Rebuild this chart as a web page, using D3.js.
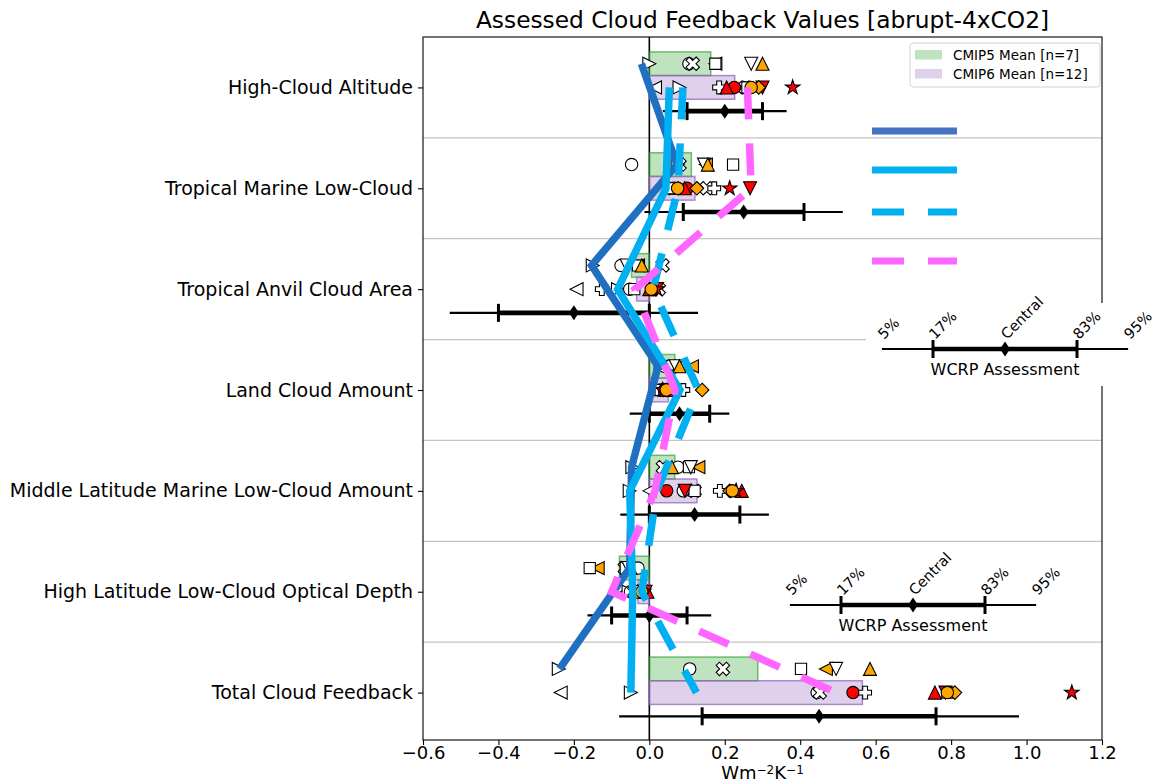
<!DOCTYPE html>
<html>
<head>
<meta charset="utf-8">
<title>Assessed Cloud Feedback Values</title>
<script src="https://cdn.jsdelivr.net/npm/d3@7"></script>
<style>
  html,body{margin:0;padding:0;background:#fff;}
  svg{display:block;}
  text{font-family:"DejaVu Sans",Verdana,sans-serif;fill:#000;}
</style>
</head>
<body>
<svg id="chart" width="1161" height="783"></svg>
<script>
// ---------------- data ----------------
const categories = [
  "High-Cloud Altitude",
  "Tropical Marine Low-Cloud",
  "Tropical Anvil Cloud Area",
  "Land Cloud Amount",
  "Middle Latitude Marine Low-Cloud Amount",
  "High Latitude Low-Cloud Optical Depth",
  "Total Cloud Feedback"
];
const xTicks = [-0.6, -0.4, -0.2, 0.0, 0.2, 0.4, 0.6, 0.8, 1.0, 1.2];

// WCRP assessment (5%, 17%, central, 83%, 95%) per category
const wcrp5       = [0.036, -0.013, -0.529, -0.052, -0.077, -0.164, -0.08];
const wcrp17      = [0.10,   0.09,  -0.40,   0.00,   0.00,  -0.10,   0.14];
const wcrpCentral = [0.20,   0.25,  -0.20,   0.08,   0.12,   0.00,   0.45];
const wcrp83      = [0.30,   0.41,   0.00,   0.16,   0.24,   0.10,   0.76];
const wcrp95      = [0.364,  0.513,  0.129,  0.212,  0.317,  0.164,  0.98];

// CMIP5 models: feedback per category (top to bottom)
const cmip5 = [
  [0.105, -0.047, -0.075, 0.040,  0.076, -0.030,  0.107],
  [0.115,  0.080,  0.035, 0.060,  0.036, -0.065,  0.195],
  [0.175,  0.150, -0.030, 0.113,  0.130, -0.137,  0.468],
  [0.175,  0.222, -0.030, 0.080,  0.105, -0.158,  0.402],
  [0.000,  0.075, -0.150, 0.030, -0.045, -0.060, -0.240],
  [0.270,  0.145, -0.060, 0.070,  0.110, -0.055,  0.495],
  [0.300,  0.155, -0.020, 0.080,  0.060, -0.050,  0.585]
];

// CMIP6 models: feedback per category (top to bottom)
const cmip6 = [
  [0.015,  0.060, -0.193, 0.020,  0.000, -0.060, -0.235],
  [0.080,  0.070, -0.083, 0.025, -0.052, -0.055, -0.049],
  [0.250,  0.065, -0.052, 0.030,  0.090, -0.050,  0.445],
  [0.255,  0.152,  0.025, 0.055,  0.120, -0.040,  0.452],
  [0.260,  0.055, -0.040, 0.030,  0.120, -0.035,  0.790],
  [0.225,  0.100,  0.010, 0.040,  0.046, -0.020,  0.540],
  [0.185,  0.172, -0.126, 0.090,  0.187, -0.030,  0.572],
  [0.205,  0.094,  0.000, 0.045,  0.245, -0.005,  0.757],
  [0.300,  0.267,  0.020, 0.050,  0.094, -0.010,  0.785],
  [0.290,  0.126,  0.010, 0.140,  0.213, -0.020,  0.810],
  [0.380,  0.213,  0.020, 0.035,  0.230, -0.015,  1.120],
  [0.270,  0.075,  0.005, 0.045,  0.220, -0.020,  0.790]
];

// Overlaid traces, one value per category
const traceDarkBlue      = [-0.021, 0.073, -0.153, 0.023, -0.047, -0.052, -0.238];
const traceLightBlue     = [0.053,  0.044, -0.084, 0.081, -0.052, -0.044, -0.049];
const traceLightBlueDash = [0.089,  0.076,  0.010, 0.130,  0.020, -0.020,  0.125];
const traceMagentaDash   = [0.260,  0.270, -0.038, 0.068,  0.015, -0.100,  0.495];

// Key for the WCRP whisker (standard-normal positions of the percentiles)
const keyZ      = [-1.71, -1, 0, 1, 1.71];
const keyLabels = ["5%", "17%", "Central", "83%", "95%"];

// ---------------- styles ----------------
const cmip5Style = [
  {shape: "o", fill: "#ffffff"},
  {shape: "X", fill: "#ffffff"},
  {shape: "<", fill: "#ffa500"},
  {shape: "s", fill: "#ffffff"},
  {shape: ">", fill: "#ffffff"},
  {shape: "v", fill: "#ffffff"},
  {shape: "^", fill: "#ffa500"}
];
const cmip6Style = [
  {shape: "<", fill: "#ffffff"},
  {shape: ">", fill: "#ffffff"},
  {shape: "o", fill: "#ffffff"},
  {shape: "X", fill: "#ffffff"},
  {shape: "s", fill: "#ffffff"},
  {shape: "o", fill: "#ff0000"},
  {shape: "P", fill: "#ffffff"},
  {shape: "^", fill: "#ff0000"},
  {shape: "v", fill: "#ff0000"},
  {shape: "D", fill: "#ffa500"},
  {shape: "*", fill: "#ff0000"},
  {shape: "o", fill: "#ffa500"}
];

// ---------------- layout ----------------
const plot = {left: 423, right: 1102, top: 37, bottom: 740};
const rowPx = 100.86;
const x = d3.scaleLinear().domain([-0.6, 1.2]).range([plot.left, plot.right]);
const y = d3.scaleLinear()
  .domain([-0.5, -0.5 + (plot.bottom - plot.top) / rowPx])
  .range([plot.top, plot.bottom]);
const OFF5 = -0.235, OFF6 = 0, OFFW = 0.235, BARH = 0.235;

const svg = d3.select("#chart");

// marker geometry
function plusPoly(L, a) {
  return [[-a,-L],[a,-L],[a,-a],[L,-a],[L,a],[a,a],[a,L],[-a,L],[-a,a],[-L,a],[-L,-a],[-a,-a]];
}
function polyPath(pts) { return "M" + pts.map(p => p[0].toFixed(2) + "," + p[1].toFixed(2)).join("L") + "Z"; }
function markerPath(shape) {
  switch (shape) {
    case "o": { const p = d3.path(); p.arc(0, 0, 6.2, 0, 2 * Math.PI); p.closePath(); return p.toString(); }
    case "s": return "M-5.6,-5.6H5.6V5.6H-5.6Z";
    case "^": return "M0,-6.5L6.5,6.5L-6.5,6.5Z";
    case "v": return "M0,6.5L6.5,-6.5L-6.5,-6.5Z";
    case "<": return "M-6.5,0L6.5,-6.5L6.5,6.5Z";
    case ">": return "M6.5,0L-6.5,-6.5L-6.5,6.5Z";
    case "D": return "M0,-6.8L6.8,0L0,6.8L-6.8,0Z";
    case "P": return polyPath(plusPoly(6.4, 2.4));
    case "X": {
      const c = Math.SQRT1_2;
      return polyPath(plusPoly(7.2, 2.3).map(([a, b]) => [c * (a - b), c * (a + b)]));
    }
    case "*": {
      const pts = [];
      for (let k = 0; k < 10; k++) {
        const r = k % 2 === 0 ? 7.6 : 7.6 * 0.382;
        const ang = -Math.PI / 2 + k * Math.PI / 5;
        pts.push([r * Math.cos(ang), r * Math.sin(ang)]);
      }
      return polyPath(pts);
    }
  }
}

// row separators
svg.append("g").selectAll("line")
  .data(d3.range(categories.length - 1))
  .join("line")
  .attr("x1", plot.left).attr("x2", plot.right)
  .attr("y1", d => y(d + 0.5)).attr("y2", d => y(d + 0.5))
  .attr("stroke", "#c4c4c4").attr("stroke-width", 1.2);

// zero line
svg.append("line")
  .attr("x1", x(0)).attr("x2", x(0))
  .attr("y1", plot.top).attr("y2", plot.bottom)
  .attr("stroke", "#000").attr("stroke-width", 1.6);

// ensemble-mean bars
const mean5 = categories.map((c, i) => d3.mean(cmip5, m => m[i]));
const mean6 = categories.map((c, i) => d3.mean(cmip6, m => m[i]));
function drawBars(means, off, fill, stroke) {
  svg.append("g").selectAll("rect")
    .data(means)
    .join("rect")
    .attr("x", d => Math.min(x(0), x(d)))
    .attr("width", d => Math.abs(x(d) - x(0)))
    .attr("y", (d, i) => y(i + off - BARH / 2))
    .attr("height", y(BARH) - y(0))
    .attr("fill", fill)
    .attr("stroke", stroke)
    .attr("stroke-width", 1.5);
}
drawBars(mean5, OFF5, "rgba(44,160,44,0.3)", "rgba(44,160,44,0.65)");
drawBars(mean6, OFF6, "rgba(148,103,189,0.3)", "rgba(148,103,189,0.75)");

// WCRP whiskers
function whisker(g, xs, cy) {
  // xs = [p5, p17, central, p83, p95] in pixels
  g.append("line").attr("x1", xs[0]).attr("x2", xs[4]).attr("y1", cy).attr("y2", cy)
    .attr("stroke", "#000").attr("stroke-width", 2.2);
  g.append("line").attr("x1", xs[1]).attr("x2", xs[3]).attr("y1", cy).attr("y2", cy)
    .attr("stroke", "#000").attr("stroke-width", 4.6);
  [xs[1], xs[3]].forEach(px => {
    g.append("line").attr("x1", px).attr("x2", px).attr("y1", cy - 9).attr("y2", cy + 9)
      .attr("stroke", "#000").attr("stroke-width", 3);
  });
  g.append("path")
    .attr("d", `M${xs[2]},${cy - 7.5}L${xs[2] + 5},${cy}L${xs[2]},${cy + 7.5}L${xs[2] - 5},${cy}Z`)
    .attr("fill", "#000");
}
const gW = svg.append("g");
categories.forEach((c, i) => {
  whisker(gW, [wcrp5[i], wcrp17[i], wcrpCentral[i], wcrp83[i], wcrp95[i]].map(x), y(i + OFFW));
});

// model markers
function drawModels(models, styles, off) {
  const g = svg.append("g");
  models.forEach((vals, m) => {
    g.selectAll(null)
      .data(vals)
      .join("path")
      .attr("d", markerPath(styles[m].shape))
      .attr("transform", (d, i) => `translate(${x(d)},${y(i + off)})`)
      .attr("fill", styles[m].fill)
      .attr("stroke", "#000")
      .attr("stroke-width", 1.1)
      .attr("stroke-linejoin", "miter");
  });
}
drawModels(cmip5, cmip5Style, OFF5);
drawModels(cmip6, cmip6Style, OFF6);

// axes
const xAxis = d3.axisBottom(x).tickValues(xTicks).tickSize(5).tickPadding(1)
  .tickFormat(d3.format(".1f"));
const gx = svg.append("g").attr("transform", `translate(0,${plot.bottom})`).call(xAxis);
gx.select(".domain").remove();
gx.selectAll("line").attr("stroke-width", 1.1);
gx.selectAll("text").attr("font-size", 18).attr("font-family", "DejaVu Sans");

const yAxis = d3.axisLeft(y).tickValues(d3.range(categories.length)).tickSize(5).tickPadding(5)
  .tickFormat(i => categories[i]);
const gy = svg.append("g").attr("transform", `translate(${plot.left},0)`).call(yAxis);
gy.select(".domain").remove();
gy.selectAll("line").attr("stroke-width", 1.1);
gy.selectAll("text").attr("font-size", 19).attr("font-family", "DejaVu Sans");

// frame
svg.append("rect")
  .attr("x", plot.left).attr("y", plot.top)
  .attr("width", plot.right - plot.left).attr("height", plot.bottom - plot.top)
  .attr("fill", "none").attr("stroke", "#000").attr("stroke-width", 1.1);

// title and axis label
svg.append("text")
  .attr("x", (plot.left + plot.right) / 2).attr("y", 28)
  .attr("text-anchor", "middle").attr("font-size", 23.3)
  .text("Assessed Cloud Feedback Values [abrupt-4xCO2]");

const xl = svg.append("text")
  .attr("x", (plot.left + plot.right) / 2).attr("y", 778.5)
  .attr("text-anchor", "middle").attr("font-size", 18);
xl.append("tspan").text("Wm");
xl.append("tspan").attr("font-size", 12).attr("dy", -4.5).text("−2");
xl.append("tspan").attr("dy", 4.5).text("K");
xl.append("tspan").attr("font-size", 12).attr("dy", -4.5).text("−1");

// ensemble-mean legend
const lg = svg.append("g");
lg.append("rect").attr("x", 910).attr("y", 43).attr("width", 190).attr("height", 44)
  .attr("rx", 3).attr("fill", "rgba(255,255,255,0.85)").attr("stroke", "#d2d2d2");
[["CMIP5 Mean [n=" + cmip5.length + "]", "rgba(44,160,44,0.3)", 50],
 ["CMIP6 Mean [n=" + cmip6.length + "]", "rgba(148,103,189,0.3)", 69]].forEach(([label, fill, ty]) => {
  lg.append("rect").attr("x", 915).attr("y", ty).attr("width", 27).attr("height", 9.5).attr("fill", fill);
  lg.append("text").attr("x", 953).attr("y", ty + 9.5).attr("font-size", 13.5).text(label);
});

// overlaid traces
const traceLine = off => d3.line().x(d => x(d)).y((d, i) => y(i + off));
const traces = [
  {vals: traceDarkBlue,      off: OFF5, color: "#1f70c1", dash: null},
  {vals: traceLightBlue,     off: 0,    color: "#00b0f0", dash: null},
  {vals: traceLightBlueDash, off: 0,    color: "#00b0f0", dash: "32,24"},
  {vals: traceMagentaDash,   off: 0,    color: "#ff66ff", dash: "32,24"}
];
traces.forEach(t => {
  svg.append("path")
    .attr("d", traceLine(t.off)(t.vals))
    .attr("fill", "none")
    .attr("stroke", t.color)
    .attr("stroke-width", 7.5)
    .attr("stroke-linejoin", "miter")
    .attr("stroke-linecap", "butt")
    .attr("stroke-dasharray", t.dash);
});

// trace key swatches
const keyColors = ["#4472c4", "#00b0f0", "#00b0f0", "#ff66ff"];
const keyDash = [null, null, "32,24", "32,24"];
[131, 170, 212, 261].forEach((ky, k) => {
  svg.append("line").attr("x1", 872).attr("x2", 957).attr("y1", ky).attr("y2", ky)
    .attr("stroke", keyColors[k]).attr("stroke-width", 7).attr("stroke-dasharray", keyDash[k]);
});

// WCRP whisker keys
function whiskerKey(cx, cy, background) {
  const g = svg.append("g");
  if (background) {
    g.append("rect").attr("x", cx - 139).attr("y", cy - 46).attr("width", 1161 - (cx - 139))
      .attr("height", 83).attr("fill", "#fff");
  }
  const k = d3.scaleLinear().domain([-1, 1]).range([cx - 72, cx + 72]);
  const xs = keyZ.map(k);
  whisker(g, xs, cy);
  xs.forEach((px, j) => {
    g.append("text")
      .attr("transform", `translate(${px + 2},${cy - 9}) rotate(-45)`)
      .attr("font-size", 14.5)
      .text(keyLabels[j]);
  });
  g.append("text").attr("x", cx).attr("y", cy + 26).attr("text-anchor", "middle")
    .attr("font-size", 16).text("WCRP Assessment");
}
whiskerKey(1005, 349, true);
whiskerKey(913, 605, false);
</script>
</body>
</html>
